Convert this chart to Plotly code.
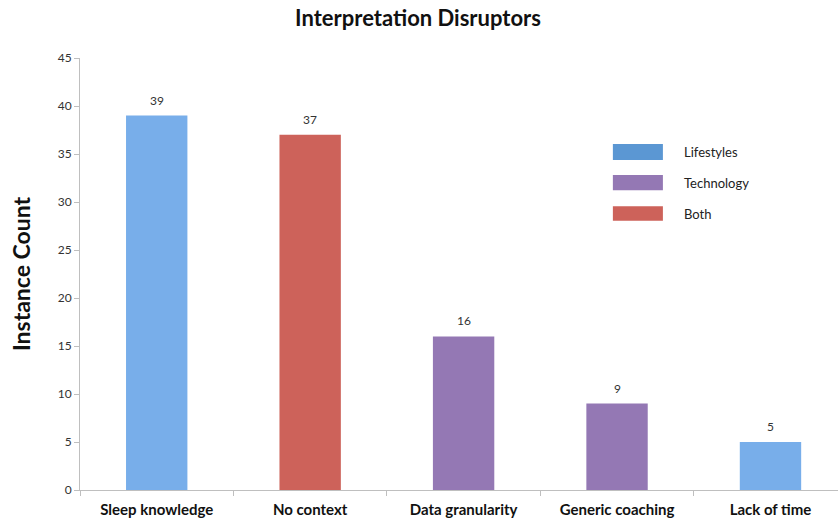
import plotly.graph_objects as go

categories = ["Sleep knowledge", "No context", "Data granularity", "Generic coaching", "Lack of time"]
counts = [39, 37, 16, 9, 5]
groups = ["Lifestyles", "Both", "Technology", "Technology", "Lifestyles"]

legend_items = ["Lifestyles", "Technology", "Both"]
bar_colors = {"Lifestyles": "#78AEEA", "Technology": "#9478B4", "Both": "#CD625A"}
legend_colors = {"Lifestyles": "#5B97D3", "Technology": "#9478B4", "Both": "#CD625A"}

FONT = "Lato, 'Open Sans', sans-serif"

fig = go.Figure()
fig.add_trace(go.Bar(
    x=categories,
    y=counts,
    width=0.4,
    marker=dict(color=[bar_colors[g] for g in groups], line=dict(width=0)),
    cliponaxis=False,
    showlegend=False,
))

# value labels above bars
for c, v in zip(categories, counts):
    fig.add_annotation(x=c, y=v, text=str(v), showarrow=False,
                       xanchor="center", yanchor="bottom", yshift=6,
                       font=dict(family=FONT, size=12, color="#333333"))

# Legend drawn as swatches + labels
swatch_y = [(0.764, 0.801), (0.694, 0.729), (0.623, 0.657)]
for name, (y0, y1) in zip(legend_items, swatch_y):
    fig.add_shape(type="rect", xref="paper", yref="paper",
                  x0=0.703, x1=0.769, y0=y0, y1=y1,
                  fillcolor=legend_colors[name], line=dict(width=0))
    fig.add_annotation(xref="paper", yref="paper", x=0.794, y=(y0 + y1) / 2,
                       text=name, showarrow=False, xanchor="left", yanchor="middle",
                       font=dict(family=FONT, size=13, color="#222222"))

fig.update_layout(
    width=838, height=521,
    margin=dict(l=80, r=0, t=58, b=31),
    paper_bgcolor="white", plot_bgcolor="white",
    title=dict(text="<b>Interpretation Disruptors</b>", x=418 / 838, xref="container", xanchor="center",
               y=1 - 18 / 521, yref="container", yanchor="middle",
               font=dict(family=FONT, size=22, color="#111111")),
    bargap=0.6,
    showlegend=False,
)

fig.update_xaxes(
    range=[-0.5, 4.44],
    showline=True, linecolor="#BFBFBF", linewidth=1,
    ticks="outside", tickson="boundaries", ticklen=5, tickcolor="#BFBFBF",
    tickfont=dict(family=FONT, size=15, color="#111111"),
    ticklabelstandoff=6,
    showgrid=False, zeroline=False,
    tickvals=categories, ticktext=[f"<b>{c}</b>" for c in categories],
)
fig.update_yaxes(
    range=[0, 45], dtick=5, tick0=0,
    showline=True, linecolor="#BFBFBF", linewidth=1,
    ticks="outside", ticklen=5, tickcolor="#BFBFBF",
    tickfont=dict(family=FONT, size=12, color="#333333"),
    showgrid=False, zeroline=False,
    title=dict(text="<b>Instance Count</b>", standoff=20,
               font=dict(family=FONT, size=23, color="#111111")),
)

fig.write_html("out.html")
